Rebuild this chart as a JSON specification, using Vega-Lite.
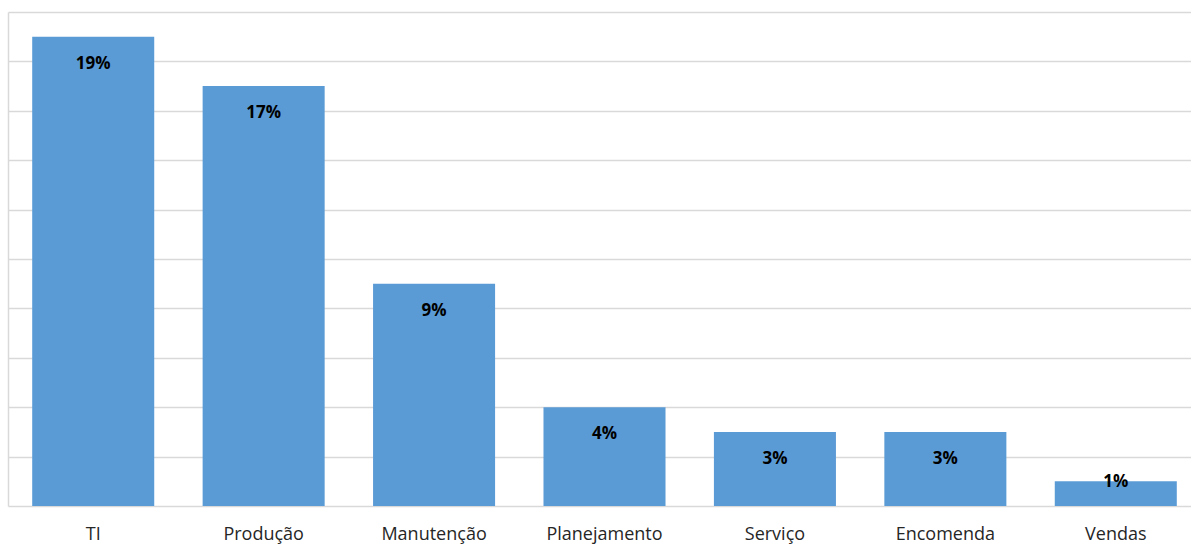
{
  "$schema": "https://vega.github.io/schema/vega-lite/v6.json",
  "width": 1183,
  "height": 494,
  "autosize": {"type": "none"},
  "padding": {"left": 8, "top": 12, "right": 0, "bottom": 39},
  "background": "white",
  "config": {
    "view": {"stroke": null},
    "font": "Open Sans"
  },
  "data": {
    "values": [
      {"setor": "TI", "pct": 19, "label": "19%"},
      {"setor": "Produção", "pct": 17, "label": "17%"},
      {"setor": "Manutenção", "pct": 9, "label": "9%"},
      {"setor": "Planejamento", "pct": 4, "label": "4%"},
      {"setor": "Serviço", "pct": 3, "label": "3%"},
      {"setor": "Encomenda", "pct": 3, "label": "3%"},
      {"setor": "Vendas", "pct": 1, "label": "1%"}
    ]
  },
  "encoding": {
    "x": {
      "field": "setor",
      "type": "nominal",
      "sort": null,
      "title": null,
      "scale": {"range": [0, 1193], "paddingInner": 0.284, "paddingOuter": 0.142},
      "axis": {
        "domain": false,
        "ticks": false,
        "labelAngle": 0,
        "labelFont": "Open Sans",
        "labelFontSize": 18,
        "labelColor": "#262626",
        "labelPadding": 19,
        "labelBaseline": "top"
      }
    },
    "y": {
      "field": "pct",
      "type": "quantitative",
      "title": null,
      "scale": {"domain": [0, 20], "nice": false, "zero": true},
      "axis": {
        "values": [0, 2, 4, 6, 8, 10, 12, 14, 16, 18, 20],
        "labels": false,
        "ticks": false,
        "domain": true,
        "domainColor": "#d9d9d9",
        "domainWidth": 1.5,
        "grid": true,
        "gridColor": "#d9d9d9",
        "gridWidth": 1.5
      }
    }
  },
  "layer": [
    {"mark": {"type": "bar", "color": "#5b9bd5"}},
    {
      "transform": [{"filter": "datum.pct >= 2"}],
      "mark": {"type": "text", "font": "Open Sans", "fontWeight": "bold", "fontSize": 17, "color": "#000000", "baseline": "middle", "dy": 27},
      "encoding": {"text": {"field": "label"}}
    },
    {
      "transform": [{"filter": "datum.pct < 2"}],
      "mark": {"type": "text", "font": "Open Sans", "fontWeight": "bold", "fontSize": 17, "color": "#000000", "baseline": "middle", "dy": 1},
      "encoding": {"text": {"field": "label"}}
    }
  ]
}
